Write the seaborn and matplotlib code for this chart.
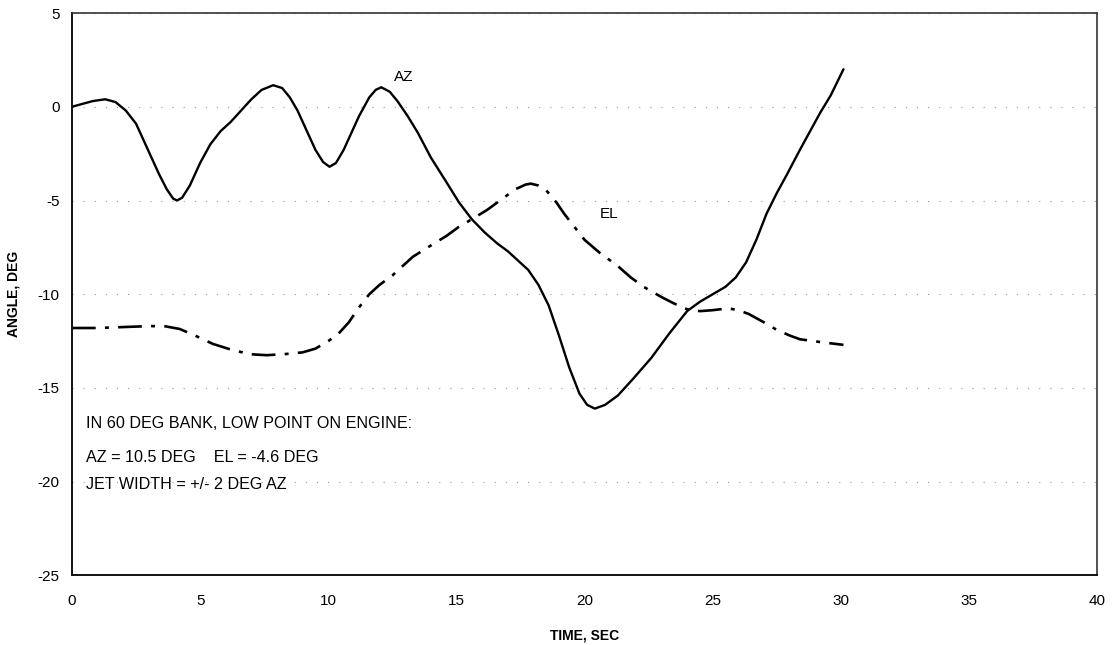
import numpy as np
import pandas as pd
import matplotlib
matplotlib.use("Agg")
import matplotlib.pyplot as plt
import seaborn as sns

# values
az_time = [0.0, 0.4, 0.8, 1.3, 1.7, 2.1, 2.5, 2.8, 3.1, 3.4, 3.7, 3.95, 4.1, 4.3, 4.6,
           5.0, 5.4, 5.8, 6.2, 6.6, 7.0, 7.4, 7.85, 8.2, 8.5, 8.8, 9.2, 9.5, 9.8,
           10.05, 10.3, 10.6, 10.9, 11.2, 11.6, 11.85, 12.07, 12.4, 12.7, 13.1, 13.5,
           14.0, 14.6, 15.1, 15.6, 16.1, 16.6, 17.0, 17.4, 17.8, 18.2, 18.6, 19.0,
           19.4, 19.8, 20.1, 20.4, 20.8, 21.3, 21.9, 22.6, 23.3, 24.0, 24.5, 25.0,
           25.5, 25.9, 26.3, 26.7, 27.1, 27.5, 27.9, 28.4, 28.8, 29.2, 29.6, 30.1]
az_angle = [0.0, 0.15, 0.3, 0.4, 0.25, -0.2, -0.9, -1.8, -2.7, -3.6, -4.4, -4.9, -5.0, -4.85, -4.2,
            -3.0, -2.0, -1.3, -0.8, -0.2, 0.4, 0.9, 1.15, 1.0, 0.5, -0.2, -1.4, -2.3, -2.95,
            -3.2, -3.0, -2.3, -1.4, -0.5, 0.5, 0.9, 1.04, 0.8, 0.3, -0.5, -1.4,
            -2.7, -4.0, -5.1, -6.0, -6.7, -7.3, -7.7, -8.2, -8.7, -9.5, -10.6, -12.2,
            -13.9, -15.3, -15.9, -16.1, -15.9, -15.4, -14.5, -13.4, -12.1, -10.9, -10.4, -10.0,
            -9.6, -9.1, -8.3, -7.1, -5.7, -4.6, -3.6, -2.3, -1.3, -0.3, 0.6, 2.0]

el_time = [0.0, 1.0, 2.0, 3.0, 3.6, 4.2, 4.8, 5.5, 6.2, 6.95, 7.6, 8.25, 9.0, 9.5,
           10.0, 10.4, 10.8, 11.2, 11.6, 12.0, 12.5, 13.3, 14.0, 14.6, 15.1, 15.6,
           16.2, 16.7, 17.3, 17.7, 17.9, 18.2, 18.5, 18.9, 19.2, 19.6, 20.0, 20.6,
           21.3, 21.8, 22.3, 23.0, 23.5, 24.0, 24.5, 25.0, 25.6, 26.0, 26.4, 27.0,
           27.5, 28.0, 28.4, 29.2, 30.1]
el_angle = [-11.8, -11.8, -11.75, -11.7, -11.7, -11.85, -12.2, -12.65, -12.95, -13.2, -13.25, -13.2, -13.1, -12.9,
            -12.5, -12.1, -11.5, -10.7, -10.0, -9.5, -9.0, -8.0, -7.4, -6.9, -6.4, -6.0,
            -5.5, -5.0, -4.4, -4.15, -4.1, -4.2, -4.45, -5.1, -5.7, -6.4, -7.1, -7.8,
            -8.5, -9.1, -9.6, -10.15, -10.5, -10.8, -10.9, -10.85, -10.75, -10.85, -11.05, -11.5,
            -11.9, -12.2, -12.4, -12.55, -12.7]

x_ticks = [0, 5, 10, 15, 20, 25, 30, 35, 40]
y_ticks = [-25, -20, -15, -10, -5, 0, 5]
notes = ["IN 60 DEG BANK, LOW POINT ON ENGINE:",
         "AZ = 10.5 DEG    EL = -4.6 DEG",
         "JET WIDTH = +/- 2 DEG AZ"]

sns.set_style("white")
plt.rcParams['font.family'] = ['Liberation Sans', 'DejaVu Sans']
plt.rcParams['axes.unicode_minus'] = False
plt.rcParams['text.color'] = 'black'

fig = plt.figure(figsize=(11.12, 6.45), dpi=100)
ax = fig.add_axes([0.0647, 0.1078, 0.922, 0.872])

az = pd.DataFrame({"time": az_time, "angle": az_angle})
el = pd.DataFrame({"time": el_time, "angle": el_angle})

sns.lineplot(data=az, x="time", y="angle", ax=ax, color="black", lw=1.7, sort=False)
sns.lineplot(data=el, x="time", y="angle", ax=ax, color="black", lw=1.9, sort=False)
ax.lines[-1].set_dashes([9, 3.5, 1.5, 3.5])

ax.set_xlim(0, 40)
ax.set_ylim(-25, 5)
ax.set_xticks(x_ticks)
ax.set_yticks(y_ticks)
ax.tick_params(axis='x', length=0, pad=13, labelsize=11, labelcolor='black')
ax.tick_params(axis='y', length=0, pad=9, labelsize=11, labelcolor='black')

ax.grid(axis='y', color='#999999', lw=0.8, linestyle=(0, (1, 9)))
ax.grid(axis='x', visible=False)

for side in ['left', 'bottom']:
    ax.spines[side].set_color('#111111')
    ax.spines[side].set_linewidth(1.4)
for side in ['top', 'right']:
    ax.spines[side].set_color('#333333')
    ax.spines[side].set_linewidth(1.2)
    ax.spines[side].set_linestyle((0, (1, 1)))

ax.set_xlabel("TIME, SEC", fontsize=10, fontweight='bold', labelpad=15, color='black')
ax.set_ylabel("ANGLE, DEG", fontsize=10, fontweight='bold', labelpad=12, color='black')

ax.text(12.55, 1.6, "AZ", fontsize=11, va='center', ha='left', color='black')
ax.text(20.6, -5.7, "EL", fontsize=11, va='center', ha='left', color='black')
for yy, s in zip([-16.87, -18.73, -20.16], notes):
    ax.text(0.55, yy, s, fontsize=11.6, va='center', ha='left', color='black')

fig.savefig("out.png", dpi=100, facecolor='white')
